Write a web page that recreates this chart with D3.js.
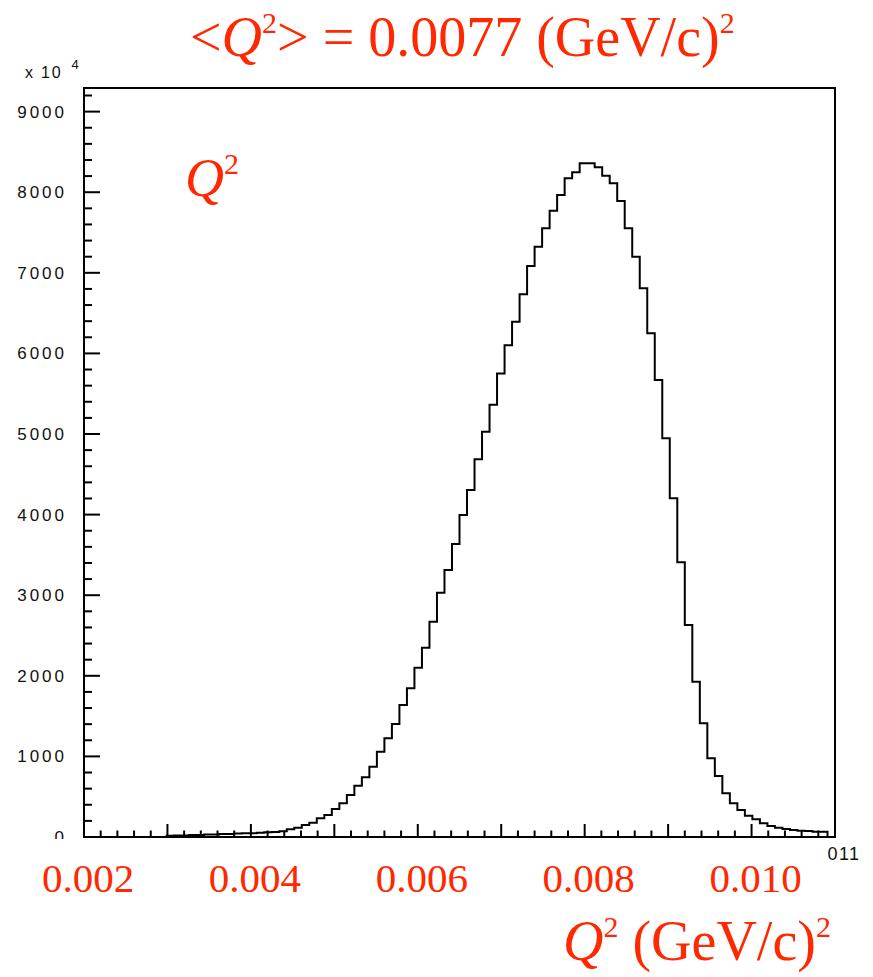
<!DOCTYPE html>
<html>
<head>
<meta charset="utf-8">
<script src="https://cdn.jsdelivr.net/npm/d3@7"></script>
<style>
  body { margin: 0; background: #fff; }
  svg text { font-family: "Liberation Sans", Arial, sans-serif; }
  .red { fill: #ff2800; font-family: "Liberation Serif", "Times New Roman", serif !important; }
</style>
</head>
<body>
<div id="chart"></div>
<script>
// ===== data =====
const xRange = [0.002, 0.011];
const nBins = 100;
// counts per bin, 100 bins of 0.00009
const counts = [
  0, 0, 0, 0, 0, 0, 0, 0, 0, 0,
  0, 15, 18, 20, 24, 26, 30, 32, 36, 38,
  42, 45, 48, 52, 58, 62, 70, 95, 115, 149,
  178, 232, 273, 347, 418, 521, 637, 740, 873, 1059,
  1224, 1402, 1638, 1845, 2100, 2349, 2671, 3031, 3313, 3635,
  3995, 4305, 4686, 5029, 5364, 5750, 6100, 6393, 6733, 7084,
  7324, 7552, 7770, 7965, 8172, 8247, 8358, 8358, 8309, 8205,
  8110, 7891, 7552, 7200, 6808, 6249, 5670, 4947, 4202, 3408,
  2630, 1927, 1411, 976, 757, 542, 418, 335, 264, 220,
  170, 136, 115, 99, 87, 78, 74, 66, 66, 0
];
const yMax = 9293;
const yTickValues = d3.range(0, 9001, 1000);
const xRedLabels = [0.002, 0.004, 0.006, 0.008, 0.010];

// ===== layout =====
const W = 873, H = 977;
const frame = { left: 84, right: 835, top: 88, bottom: 837 };

const svg = d3.select("#chart").append("svg")
  .attr("width", W).attr("height", H);

const x = d3.scaleLinear().domain(xRange).range([frame.left, frame.right]);
const y = d3.scaleLinear().domain([0, yMax]).range([frame.bottom, frame.top]);

const binW = (xRange[1] - xRange[0]) / nBins;

// Histogram outline
const pts = [[xRange[0], 0]];
counts.forEach((c, i) => pts.push([xRange[0] + i * binW, c]));
pts.push([xRange[1], 0]);

svg.append("path")
  .attr("d", d3.line().x(d => x(d[0])).y(d => y(d[1])).curve(d3.curveStepAfter)(pts))
  .attr("fill", "none").attr("stroke", "#000").attr("stroke-width", 2);

// Y axis (ROOT style ticks inside the frame)
const yAxis = svg.append("g").attr("transform", `translate(${frame.left},0)`);
yAxis.selectAll(".ymin").data(d3.range(0, yMax, 200)).enter().append("line")
  .attr("x1", 0).attr("x2", d => d % 1000 === 0 ? 16 : 8)
  .attr("y1", d => y(d)).attr("y2", d => y(d))
  .attr("stroke", "#000").attr("stroke-width", 2);
yAxis.selectAll(".ylab").data(yTickValues).enter().append("text")
  .attr("x", -17).attr("y", d => y(d) + 6)
  .attr("text-anchor", "end")
  .attr("font-size", 17).attr("letter-spacing", 3)
  .attr("fill", "#111")
  .text(d => d);

// exponent label
const expo = svg.append("text").attr("x", 25).attr("y", 78).attr("font-size", 16).attr("fill", "#111");
expo.append("tspan").text("x 10").attr("letter-spacing", 1.8);
expo.append("tspan").attr("dx", 9).attr("dy", -9).attr("font-size", 13).text("4");

// X axis ticks
const xAxis = svg.append("g").attr("transform", `translate(0,${frame.bottom})`);
const xMinor = d3.range(0, 46).map(i => xRange[0] + i * 0.0002);
xAxis.selectAll(".xmin").data(xMinor).enter().append("line")
  .attr("x1", d => x(d)).attr("x2", d => x(d))
  .attr("y1", 0).attr("y2", (d, i) => i % 5 === 0 ? -13 : -6.5)
  .attr("stroke", "#000").attr("stroke-width", 2);

// frame
svg.append("rect")
  .attr("x", frame.left).attr("y", frame.top)
  .attr("width", frame.right - frame.left).attr("height", frame.bottom - frame.top)
  .attr("fill", "none").attr("stroke", "#000").attr("stroke-width", 2);

// the original tick label at the axis end, mostly hidden
svg.append("text")
  .attr("x", x(0.011)).attr("y", 860)
  .attr("text-anchor", "middle").attr("font-size", 18).attr("letter-spacing", 1.5)
  .attr("fill", "#111").text("0.011");

// white patch laid over the axis labels
svg.append("rect").attr("x", 0).attr("y", 839).attr("width", 828).attr("height", H - 839).attr("fill", "#fff");

// Red labels
svg.selectAll(".xred").data(xRedLabels).enter().append("text")
  .attr("class", "red")
  .attr("x", d => x(d) + 4).attr("y", 892)
  .attr("text-anchor", "middle").attr("font-size", 41)
  .text(d => d3.format(".3f")(d));

const title = svg.append("text").attr("class", "red").attr("x", 190).attr("y", 56).attr("font-size", 56);
title.append("tspan").text("<");
title.append("tspan").attr("font-style", "italic").text("Q");
title.append("tspan").attr("font-size", 30).attr("dy", -23).text("2");
title.append("tspan").attr("dy", 23).text(">\u00a0=\u00a00.0077\u00a0(GeV/c)");
title.append("tspan").attr("font-size", 30).attr("dy", -23).text("2");

const inner = svg.append("text").attr("class", "red").attr("x", 185).attr("y", 196).attr("font-size", 54);
inner.append("tspan").attr("font-style", "italic").text("Q");
inner.append("tspan").attr("font-size", 30).attr("dy", -22).text("2");

const xt = svg.append("text").attr("class", "red").attr("x", 563).attr("y", 960).attr("font-size", 56);
xt.append("tspan").attr("font-style", "italic").text("Q");
xt.append("tspan").attr("font-size", 30).attr("dy", -23).text("2");
xt.append("tspan").attr("dy", 23).text("\u00a0(GeV/c)");
xt.append("tspan").attr("font-size", 30).attr("dy", -23).text("2");
</script>
</body>
</html>
